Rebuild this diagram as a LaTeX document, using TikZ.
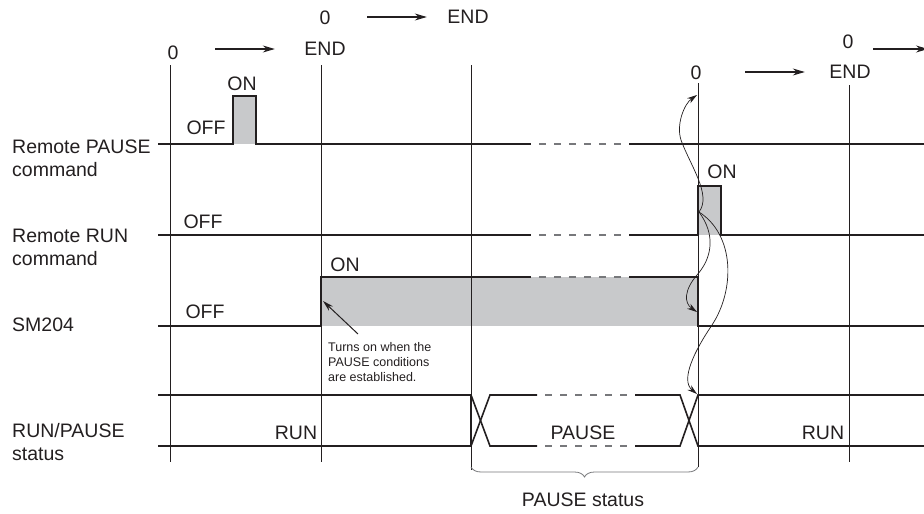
\documentclass[tikz,border=0pt]{standalone}
\usepackage{fontspec}
\setmainfont{Liberation Sans}
\usepackage{xcolor}
\usepackage{tikz}
\usetikzlibrary{arrows.meta, decorations.pathreplacing}
\definecolor{ink}{HTML}{231F20}
\definecolor{pulsegray}{HTML}{C8C9CB}
\definecolor{dashgray}{HTML}{77787B}
\tikzstyle{lbl} = [inner sep=0pt, font=\fontsize{19.5}{23}\selectfont, text=ink]
\tikzstyle{notetext} = [inner sep=0pt, align=left, font=\fontsize{12.5}{15}\selectfont, text=ink]
\tikzstyle{sig} = [draw=ink, line width=2.2pt, line join=miter]
\tikzstyle{gapline} = [draw=dashgray, line width=1.8pt, dash pattern=on 7pt off 8pt]
\tikzstyle{tline} = [draw=ink, line width=1pt]

\begin{document}
\begin{tikzpicture}[x=1pt, y=-1pt, >={Stealth[length=12pt, width=7pt]}]
        % 样式定义
        \tikzstyle{busline} = [draw=ink, line width=1.6pt, line join=miter]
        \tikzstyle{tick} = [->, draw=ink, line width=1.1pt]
        \tikzstyle{hop} = [->, draw=ink, line width=0.7pt, >={Stealth[length=10pt, width=6pt]}]
        \useasboundingbox (0,0) rectangle (924,514);

        % 灰色区域
        \fill [pulsegray] (233,96) rectangle (256,144);
        \fill [pulsegray] (698,186) rectangle (721,235);
        \fill [pulsegray] (321,277) rectangle (698,326);

        % 扫描周期
        \foreach \x/\t/\b in {170/65/462, 321/65/462, 471/65/470, 698/83/467, 849/85/462}
            \draw [tline] (\x,\t) -- (\x,\b);
        \node [lbl] (z1) at (173,53) {0};
        \node [lbl] (e1) at (325,49) {END};
        \node [lbl] (z2) at (325,18) {0};
        \node [lbl] (e2) at (468,17) {END};
        \node [lbl] (z3) at (696,73) {0};
        \node [lbl] (e3) at (850,72) {END};
        \node [lbl] (z4) at (848,42) {0};
        \coordinate (e4) at (928,49);
        \draw [tick, shorten <=36.6pt, shorten >=29.4pt] (z1.east |- e1) -- (e1.west);
        \draw [tick, shorten <=36.6pt, shorten >=20.4pt] (z2.east |- e2) -- (e2.west);
        \draw [tick, shorten <=43.6pt, shorten >=24.4pt] (z3.east |- e3) -- (e3.west);
        \draw [tick, shorten <=19.6pt] (z4.east |- e4) -- (e4);

        % 信号名
        \node [lbl, anchor=west, align=left] (cmdP) at (12,158) {Remote PAUSE\\command};
        \node [lbl, anchor=west, align=left] (cmdR) at (12,247) {Remote RUN\\command};
        \node [lbl, anchor=west] (smL) at (12,325) {SM204};
        \node [lbl, anchor=west, align=left] (stL) at (12,442) {RUN/PAUSE\\status};

        % 信号波形
        \draw [sig] (158,144) -- (233,144) -- (233,96) -- (256,96) -- (256,144) -- (531,144);
        \draw [sig] (629,144) -- (924,144);
        \draw [sig] (158,235) -- (531,235);
        \draw [sig] (629,235) -- (698,235) -- (698,186) -- (721,186) -- (721,235) -- (924,235);
        \draw [sig] (158,326) -- (321,326) -- (321,277) -- (531,277);
        \draw [sig] (629,277) -- (698,277) -- (698,326) -- (924,326);
        \foreach \y in {144, 235, 277}
            \draw [gapline] (539,\y) -- (623,\y);

        \draw [busline] (158,395) -- (471,395) -- (490,446) -- (537,446);
        \draw [busline] (158,446) -- (471,446) -- (490,395) -- (537,395);
        \draw [busline] (471,395) -- (471,446);
        \foreach \y in {395, 446}
            \draw [gapline, line width=1.4pt, dash pattern=on 6.7pt off 8.3pt] (545,\y) -- (627,\y);
        \draw [busline] (635,395) -- (680,395) -- (698,446) -- (924,446);
        \draw [busline] (635,446) -- (680,446) -- (698,395) -- (924,395);

        % 状态标注
        \node [lbl] (off1) at (206,128) {OFF};
        \node [lbl] (on1) at (242,84) {ON};
        \node [lbl] (off2) at (203,222) {OFF};
        \node [lbl] (on2) at (722,172) {ON};
        \node [lbl] (off3) at (205,312) {OFF};
        \node [lbl] (on3) at (345,265) {ON};
        \node [lbl] (run1) at (296,433) {RUN};
        \node [lbl] (pause) at (583,433) {PAUSE};
        \node [lbl] (run2) at (823,433) {RUN};

        % 说明
        \node [notetext, anchor=north west] (note) at (328,342) {Turns on when the\\PAUSE conditions\\are established.};
        \coordinate (rise) at (323,301);
        \draw [->, draw=ink, line width=1pt, >={Stealth[length=11pt, width=6pt]}] ([shift={(30,-8)}]note.north west) -- (rise);

        % 暂停区间
        \coordinate (pB) at (471,467);
        \coordinate (pE) at (698,467);
        \draw [decorate, decoration={brace, mirror, amplitude=10pt}, draw=dashgray, line width=0.8pt] (pB) -- (pE);
        \node [lbl] (pst) at (583,500) {PAUSE status};

        % RUN 指令的作用
        \coordinate (kick) at (699,212);
        \coordinate (tipA) at (697,95);
        \coordinate (tipB) at (697,312);
        \coordinate (tipC) at (697,394);
        \draw [hop] (kick) .. controls (712,195) and (690,165) .. (681,140) .. controls (676,125) and (684,104) .. (tipA);
        \draw [hop] (kick) .. controls (716,235) and (712,258) .. (697,275) .. controls (684,290) and (684,303) .. (tipB);
        \draw [hop] (kick) .. controls (735,235) and (735,290) .. (712,325) .. controls (695,350) and (680,380) .. (tipC);
    \end{tikzpicture}
\end{document}
